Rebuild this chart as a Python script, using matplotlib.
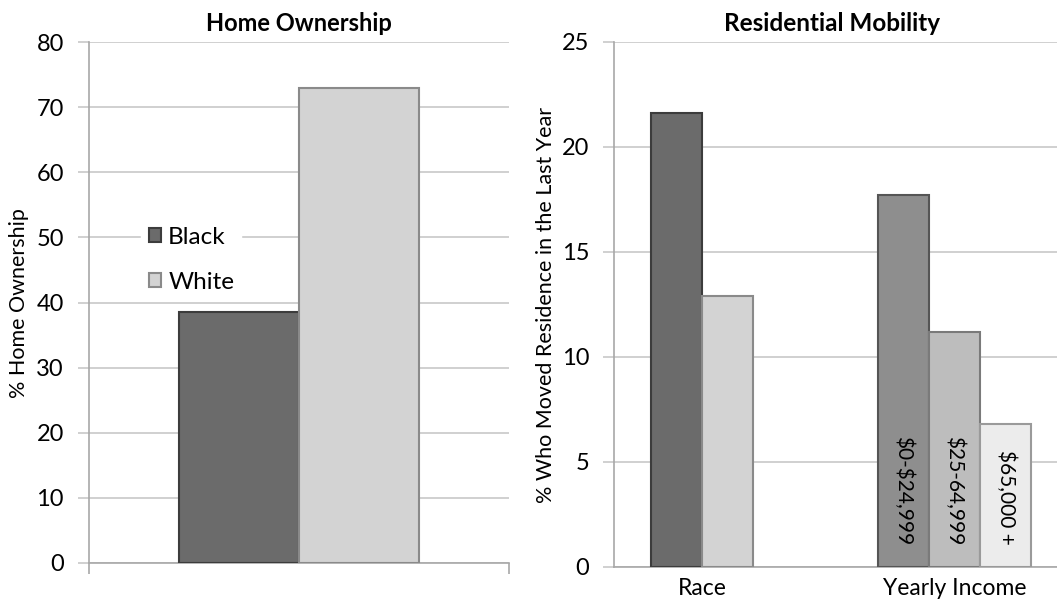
import matplotlib
matplotlib.use("Agg")
import matplotlib.pyplot as plt
import numpy as np

plt.rcParams['font.family'] = ['Lato', 'DejaVu Sans']

# Home ownership data
own_groups = ['Black', 'White']
own_values = [38.6, 73.0]
own_colors = ['#6b6b6b', '#d3d3d3']
own_edges = ['#3c3c3c', '#8a8a8a']

# Residential mobility data
mob_categories = ['Race', 'Yearly Income']
race_values = [21.6, 12.9]
race_colors = ['#6b6b6b', '#d3d3d3']
race_edges = ['#3c3c3c', '#8a8a8a']
income_labels = ['$0-$24,999', '$25-64,999', '$65,000 +']
income_values = [17.7, 11.2, 6.8]
income_colors = ['#8e8e8e', '#bdbdbd', '#ececec']
income_edges = ['#555555', '#7a7a7a', '#9a9a9a']

grid_col = '#c8c8c8'
axis_col = '#a8a8a8'

fig = plt.figure(figsize=(10.57, 6.07), dpi=100)

# ---- left panel: home ownership
ax1 = fig.add_axes([0.0842, 0.0725, 0.397, 0.858])
w1 = 0.286
for i, (g, v) in enumerate(zip(own_groups, own_values)):
    x = (i - 0.5) * w1
    ax1.bar(x, v, width=w1, color=own_colors[i], edgecolor=own_edges[i],
            linewidth=1.5, label=g, zorder=3)
ax1.set_xlim(-0.5, 0.5)
ax1.set_ylim(0, 80)
ax1.set_yticks(np.arange(0, 81, 10))
ax1.set_xticks([-0.5, 0.5])
ax1.set_xticklabels(['', ''])
ax1.tick_params(axis='x', direction='out', length=8, color=axis_col, width=1.2)
ax1.set_ylabel('% Home Ownership', fontsize=15.5, labelpad=5)
ax1.set_title('Home Ownership', fontsize=17, fontweight='bold', pad=8)
leg = ax1.legend(loc='upper left', bbox_to_anchor=(0.125, 0.66), fontsize=17.5,
                 frameon=True, fancybox=False, edgecolor='white', framealpha=1,
                 handlelength=0.5, handleheight=0.5, handletextpad=0.3,
                 labelspacing=1.0, borderaxespad=0, borderpad=0.3)

# ---- right panel: residential mobility
ax2 = fig.add_axes([0.581, 0.0659, 0.4295, 0.865])
w2 = 0.225
race_x = [(k - 1) * w2 for k in range(len(race_values))]
ax2.bar(race_x, race_values, width=w2, color=race_colors, edgecolor=race_edges,
        linewidth=1.5, zorder=3)
inc_x = [1 + (k - 1) * w2 for k in range(len(income_values))]
ax2.bar(inc_x, income_values, width=w2, color=income_colors,
        edgecolor=income_edges, linewidth=1.5, zorder=3)
for x, lab in zip(inc_x, income_labels):
    ax2.text(x, 1.05, lab, rotation=270, ha='center', va='bottom',
             fontsize=15, zorder=4, parse_math=False)
ax2.set_xlim(-0.5, 1.5)
ax2.set_ylim(0, 25)
ax2.set_yticks(np.arange(0, 26, 5))
ax2.set_xticks([np.mean(race_x), np.mean(inc_x)])
ax2.set_xticklabels(mob_categories, fontsize=16.5)
ax2.tick_params(axis='x', length=0, pad=8)
ax2.set_ylabel('% Who Moved Residence in the Last Year', fontsize=15.5, labelpad=4)
ax2.set_title('Residential Mobility', fontsize=17.5, fontweight='bold', pad=8, x=0.48)

for ax in (ax1, ax2):
    ax.grid(axis='y', color=grid_col, linewidth=1.2, zorder=0)
    ax.set_axisbelow(True)
    for s in ('top', 'right'):
        ax.spines[s].set_visible(False)
    for s in ('left', 'bottom'):
        ax.spines[s].set_color(axis_col)
        ax.spines[s].set_linewidth(1.2)
    ax.tick_params(axis='y', direction='out', length=8, color=grid_col,
                   width=1.2, labelsize=17, pad=10)

fig.savefig('out.png', dpi=100)
